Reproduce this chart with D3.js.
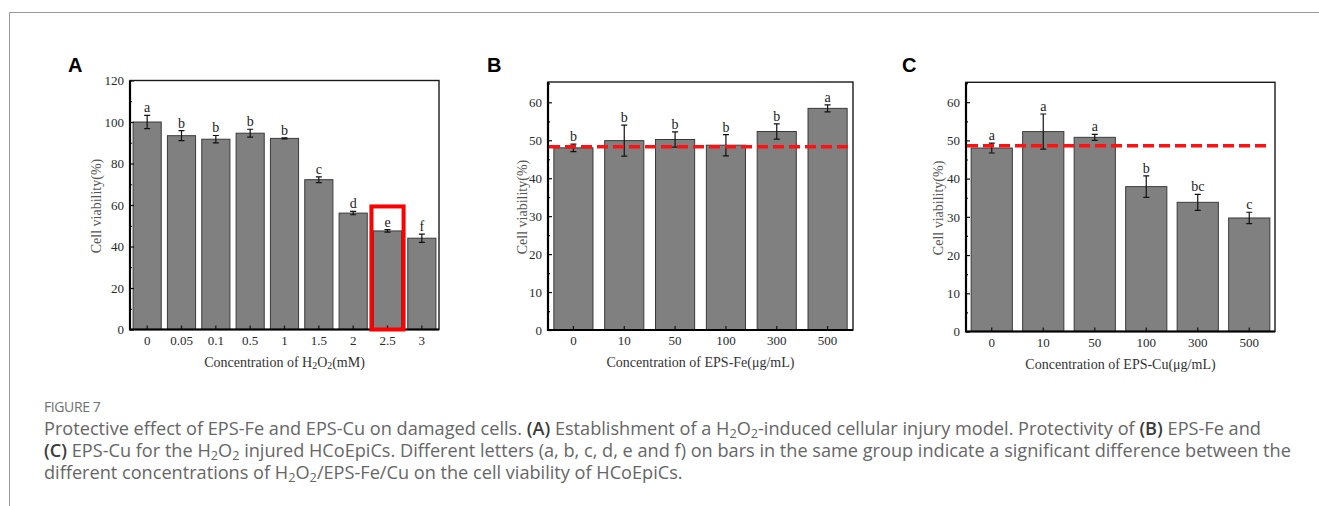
<!DOCTYPE html>
<html>
<head>
<meta charset="utf-8">
<script src="https://cdn.jsdelivr.net/npm/d3@7"></script>
<style>
  html, body { margin: 0; padding: 0; background: #fff; }
  svg { display: block; }
</style>
</head>
<body>
<script>
// ---------- DATA ----------
const catsA = ["0", "0.05", "0.1", "0.5", "1", "1.5", "2", "2.5", "3"];
const valsA = [100, 93.4, 91.7, 94.6, 92.1, 72.2, 56.1, 47.5, 44.0];
const errsA = [3.2, 2.4, 1.8, 1.9, 0.3, 1.4, 0.8, 0.6, 2.0];
const lettersA = ["a", "b", "b", "b", "b", "c", "d", "e", "f"];
const highlightA = "2.5";
const highlightTopA = 59.3;
const yTicksA = [0, 20, 40, 60, 80, 100, 120];

const catsB = ["0", "10", "50", "100", "300", "500"];
const valsB = [48.0, 49.9, 50.2, 48.7, 52.3, 58.4];
const errsB = [1.0, 4.1, 2.0, 2.8, 2.0, 0.9];
const lettersB = ["b", "b", "b", "b", "b", "a"];
const controlB = 48.3;

const catsC = ["0", "10", "50", "100", "300", "500"];
const valsC = [48.0, 52.3, 50.8, 37.9, 33.8, 29.7];
const errsC = [1.3, 4.6, 0.8, 2.8, 2.1, 1.5];
const lettersC = ["a", "a", "a", "b", "bc", "c"];
const controlC = 48.6;
const yTicksBC = [0, 10, 20, 30, 40, 50, 60];

// ---------- SETUP ----------
const W = 1319, H = 506;
const svg = d3.select("body").append("svg").attr("width", W).attr("height", H);
svg.append("rect").attr("width", W).attr("height", H).attr("fill", "#fff");

// outer frame (top and left lines)
svg.append("path").attr("d", `M9.5,${H} V12.5 H${W}`).attr("fill", "none")
  .attr("stroke", "#9a9a9a").attr("stroke-width", 1);

const serif = "'Liberation Serif', 'Times New Roman', serif";

function richText(sel, parts, fontSize, boldFill) {
  // parts: [text, style] style in '', 'sub', 'b'
  let shifted = false;
  const sh = fontSize * 0.18;
  parts.forEach(([t, s]) => {
    const ts = sel.append("tspan").text(t);
    if (s === "sub") {
      ts.attr("font-size", fontSize * 0.7).attr("dy", shifted ? 0 : sh);
      shifted = true;
    } else {
      if (shifted) { ts.attr("dy", -sh); shifted = false; }
      if (s === "b") ts.attr("font-weight", 600).attr("fill", boldFill || "#333");
    }
  });
}

function panel(cfg) {
  const g = svg.append("g");
  const x = d3.scaleBand().domain(cfg.cats).range([cfg.x0, cfg.x1])
    .paddingInner(cfg.pad).paddingOuter(cfg.pad / 2);
  const y = d3.scaleLinear().domain(cfg.ydom).range([cfg.y0, cfg.y1]);

  // bars
  g.selectAll("rect.bar").data(cfg.vals).join("rect")
    .attr("x", (d, i) => x(cfg.cats[i]))
    .attr("y", d => y(d))
    .attr("width", x.bandwidth())
    .attr("height", d => y(0) - y(d))
    .attr("fill", "#808080").attr("stroke", "#3a3a3a").attr("stroke-width", 1);

  // error bars
  const cap = 3;
  cfg.vals.forEach((v, i) => {
    const cx = x(cfg.cats[i]) + x.bandwidth() / 2;
    const e = cfg.errs[i];
    g.append("path")
      .attr("d", `M${cx},${y(v - e)}V${y(v + e)}M${cx - cap},${y(v + e)}H${cx + cap}M${cx - cap},${y(v - e)}H${cx + cap}`)
      .attr("stroke", "#111").attr("stroke-width", 1.2).attr("fill", "none");
    g.append("text")
      .attr("x", cx).attr("y", y(v + e) - 3)
      .attr("text-anchor", "middle")
      .attr("font-family", serif).attr("font-size", 14).attr("fill", "#222")
      .text(cfg.letters[i]);
  });

  // y axis major ticks
  const ya = g.append("g").attr("transform", `translate(${cfg.x0},0)`)
    .call(d3.axisLeft(y).tickValues(cfg.yticks).tickSizeInner(-4).tickSizeOuter(0).tickPadding(6));
  ya.select(".domain").remove();
  ya.selectAll("line").attr("stroke", "#111").attr("stroke-width", 1.2);
  ya.selectAll("text").attr("font-family", serif).attr("font-size", 13).attr("fill", "#2a2a2a");
  // minor ticks
  const ym = g.append("g").attr("transform", `translate(${cfg.x0},0)`)
    .call(d3.axisLeft(y).tickValues(cfg.minor).tickSizeInner(-2).tickSizeOuter(0).tickFormat(""));
  ym.select(".domain").remove();
  ym.selectAll("line").attr("stroke", "#111").attr("stroke-width", 1.2);

  // x axis
  const xa = g.append("g").attr("transform", `translate(0,${cfg.y0})`)
    .call(d3.axisBottom(x).tickSizeInner(-4).tickSizeOuter(0).tickPadding(6));
  xa.select(".domain").remove();
  xa.selectAll("line").attr("stroke", "#111").attr("stroke-width", 1.2);
  xa.selectAll("text").attr("font-family", serif).attr("font-size", 13).attr("fill", "#2a2a2a");

  // frame box
  g.append("rect").attr("x", cfg.x0).attr("y", cfg.y1)
    .attr("width", cfg.x1 - cfg.x0).attr("height", cfg.y0 - cfg.y1)
    .attr("fill", "none").attr("stroke", "#1a1a1a").attr("stroke-width", 1.4);
  g.append("line").attr("x1", cfg.x0).attr("x2", cfg.x0).attr("y1", cfg.y1).attr("y2", cfg.y0 + 1)
    .attr("stroke", "#000").attr("stroke-width", 2.2);
  g.append("line").attr("x1", cfg.x0).attr("x2", cfg.x1).attr("y1", cfg.y0).attr("y2", cfg.y0)
    .attr("stroke", "#000").attr("stroke-width", 2);

  // control line
  if (cfg.control != null) {
    g.append("line").attr("x1", cfg.x0 + 1).attr("x2", cfg.ctrlEnd)
      .attr("y1", y(cfg.control)).attr("y2", y(cfg.control))
      .attr("stroke", "#ff1111").attr("stroke-width", 3.6).attr("stroke-dasharray", "11,5");
  }

  // highlight box
  if (cfg.highlight != null) {
    const hx = x(cfg.highlight);
    g.append("rect").attr("x", hx - 2).attr("y", y(cfg.highlightTop))
      .attr("width", x.bandwidth() + 4).attr("height", y(0) - y(cfg.highlightTop))
      .attr("fill", "none").attr("stroke", "#ff0000").attr("stroke-width", 4);
  }

  // y title
  g.append("text")
    .attr("transform", `translate(${cfg.ytx},${(cfg.y0 + cfg.y1) / 2 + 1}) rotate(-90)`)
    .attr("text-anchor", "middle").attr("dy", "0.35em")
    .attr("font-family", serif).attr("font-size", 14).attr("fill", "#555")
    .text("Cell viability(%)");

  // x title
  const xt = g.append("text")
    .attr("x", (cfg.x0 + cfg.x1) / 2).attr("y", cfg.y0 + 37)
    .attr("text-anchor", "middle")
    .attr("font-family", serif).attr("font-size", 14).attr("fill", "#333");
  richText(xt, cfg.xtitle, 14);

  // panel letter
  svg.append("text").attr("x", cfg.lx).attr("y", 72)
    .attr("font-family", "'Liberation Sans', Arial, sans-serif").attr("font-weight", "bold")
    .attr("font-size", 20).attr("fill", "#000").text(cfg.label);
}

panel({
  cats: catsA, vals: valsA, errs: errsA, letters: lettersA,
  x0: 130, x1: 439, y0: 329.5, y1: 80.5, ydom: [0, 120], pad: 0.18,
  yticks: yTicksA, minor: [10, 30, 50, 70, 90, 110],
  highlight: highlightA, highlightTop: highlightTopA,
  ytx: 96, lx: 68, label: "A",
  xtitle: [["Concentration of H", ""], ["2", "sub"], ["O", ""], ["2", "sub"], ["(mM)", ""]]
});
panel({
  cats: catsB, vals: valsB, errs: errsB, letters: lettersB,
  x0: 548, x1: 853, y0: 330, y1: 82, ydom: [0, 65.35], pad: 0.23,
  yticks: yTicksBC, minor: [5, 15, 25, 35, 45, 55, 65],
  control: controlB, ctrlEnd: 853,
  ytx: 522, lx: 487, label: "B",
  xtitle: [["Concentration of EPS-Fe(\u03bcg/mL)", ""]]
});
panel({
  cats: catsC, vals: valsC, errs: errsC, letters: lettersC,
  x0: 966, x1: 1275, y0: 331.5, y1: 82.3, ydom: [0, 65.2], pad: 0.2,
  yticks: yTicksBC, minor: [5, 15, 25, 35, 45, 55, 65],
  control: controlC, ctrlEnd: 1271,
  ytx: 938, lx: 902, label: "C",
  xtitle: [["Concentration of EPS-Cu(\u03bcg/mL)", ""]]
});

// ---------- CAPTION ----------
const capFont = "'Open Sans', 'Noto Sans', sans-serif";
svg.append("text").attr("x", 44).attr("y", 412)
  .attr("font-family", capFont).attr("font-size", 14).attr("fill", "#707070")
  .attr("letter-spacing", -0.4)
  .text("FIGURE 7");

const capLines = [
  [["Protective effect of EPS-Fe and EPS-Cu on damaged cells. ", ""], ["(A)", "b"],
   [" Establishment of a H", ""], ["2", "sub"], ["O", ""], ["2", "sub"],
   ["-induced cellular injury model. Protectivity of ", ""], ["(B)", "b"], [" EPS-Fe and", ""]],
  [["(C)", "b"], [" EPS-Cu for the H", ""], ["2", "sub"], ["O", ""], ["2", "sub"],
   [" injured HCoEpiCs. Different letters (a, b, c, d, e and f) on bars in the same group indicate a significant difference between the", ""]],
  [["different concentrations of H", ""], ["2", "sub"], ["O", ""], ["2", "sub"],
   ["/EPS-Fe/Cu on the cell viability of HCoEpiCs.", ""]]
];
const capBase = [435, 457, 479];
let capSize = 16;
const capTexts = capLines.map((parts, i) => {
  const t = svg.append("text").attr("x", 44).attr("y", capBase[i])
    .attr("font-family", capFont).attr("font-size", capSize).attr("fill", "#666");
  richText(t, parts, capSize, "#3a3a3a");
  return t;
});
// fit first line width to reference (44 -> 1262)
const w1 = capTexts[0].node().getComputedTextLength();
capSize = capSize * 1218 / w1;
capTexts.forEach((t, i) => {
  t.selectAll("tspan").remove();
  t.attr("font-size", capSize);
  richText(t, capLines[i], capSize, "#3a3a3a");
});
</script>
</body>
</html>
